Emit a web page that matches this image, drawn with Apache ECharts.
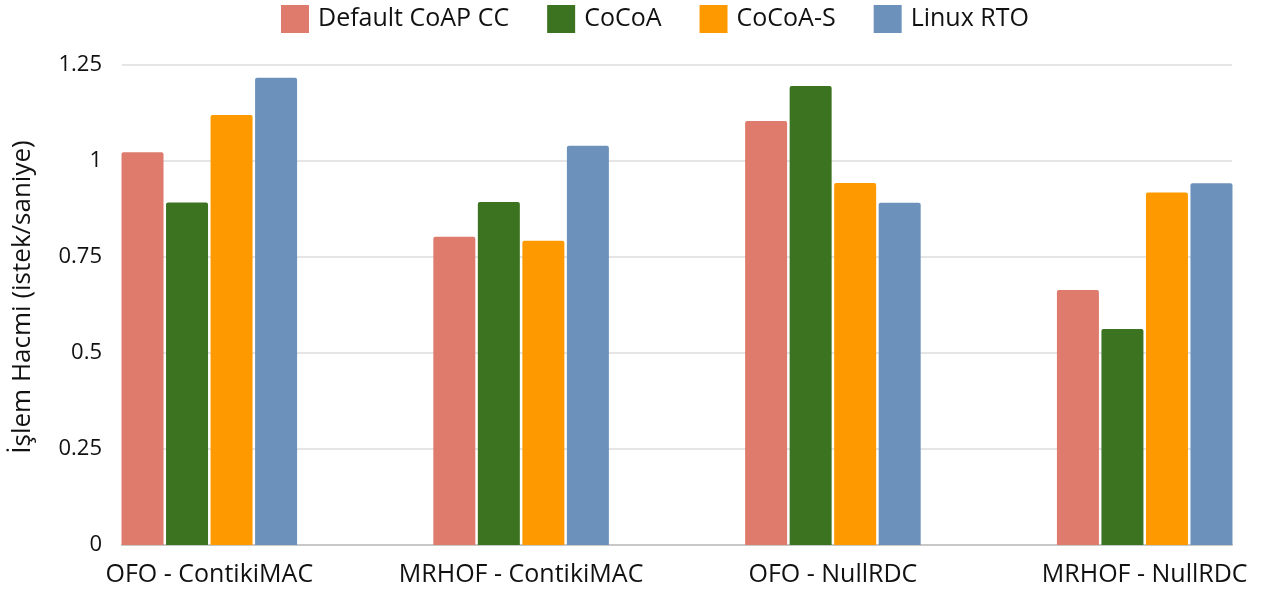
<!DOCTYPE html>
<html>
<head>
<meta charset="utf-8">
<script src="https://cdn.jsdelivr.net/npm/echarts@6/dist/echarts.min.js"></script>
<style>
  html, body { margin: 0; padding: 0; background: #fff; }
  #chart { width: 1264px; height: 593px; }
</style>
</head>
<body>
<div id="chart"></div>
<script>
const categories = ['OFO - ContikiMAC', 'MRHOF - ContikiMAC', 'OFO - NullRDC', 'MRHOF - NullRDC']
const seriesNames = ['Default CoAP CC', 'CoCoA', 'CoCoA-S', 'Linux RTO']
const defaultCoap = [1.023, 0.803, 1.104, 0.664]
const cocoa = [0.892, 0.893, 1.195, 0.5625]
const cocoaS = [1.120, 0.792, 0.943, 0.918]
const linuxRto = [1.217, 1.040, 0.891, 0.942]
const colors = ['#de7b6c', '#3c7321', '#fe9a00', '#6c91ba']

const font = '"Open Sans", Lato, sans-serif'
const chart = echarts.init(document.getElementById('chart'))

const values = [defaultCoap, cocoa, cocoaS, linuxRto]
const catIndex = categories.map((_, i) => i)

chart.setOption({
  backgroundColor: '#fff',
  animation: false,
  legend: {
    top: 0,
    left: 276,
    itemWidth: 28,
    itemHeight: 28,
    itemGap: 38,
    icon: 'rect',
    textStyle: { fontFamily: font, fontSize: 25, color: '#111', padding: [0, 0, 0, 4] },
    data: seriesNames,
  },
  grid: { left: 122, right: 32, top: 65, bottom: 48 },
  // value axis so the bar groups can sit off-centre like the reference (groups start at the band's left edge)
  xAxis: {
    type: 'value',
    min: -0.28,
    max: 3.28,
    axisLine: { show: true, onZero: false, lineStyle: { color: '#c8c8c8', width: 2 } },
    axisTick: { show: false },
    splitLine: { show: false },
    axisLabel: {
      customValues: catIndex,
      formatter: (v) => categories[Math.round(v)] || '',
      fontFamily: font,
      fontSize: 25,
      color: '#111',
      margin: 17,
    },
  },
  yAxis: {
    type: 'value',
    min: 0,
    max: 1.25,
    interval: 0.25,
    name: 'İşlem Hacmi (istek/saniye)',
    nameLocation: 'middle',
    nameGap: 86,
    nameTextStyle: { fontFamily: font, fontSize: 26, color: '#111', padding: [0, 0, 0, 16] },
    axisLine: { show: false },
    axisTick: { show: false },
    axisLabel: { fontFamily: font, fontSize: 22, color: '#111', margin: 20 },
    splitLine: { lineStyle: { color: '#dcdcdc', width: 1.5 } },
  },
  series: seriesNames.map((name, i) => ({
    name,
    type: 'bar',
    data: values[i].map((v, j) => [catIndex[j], v]),
    barWidth: 42,
    barGap: '6%',
    itemStyle: {
      color: colors[i],
      borderRadius: [2, 2, 0, 0],
    },
  })),
})
</script>
</body>
</html>
